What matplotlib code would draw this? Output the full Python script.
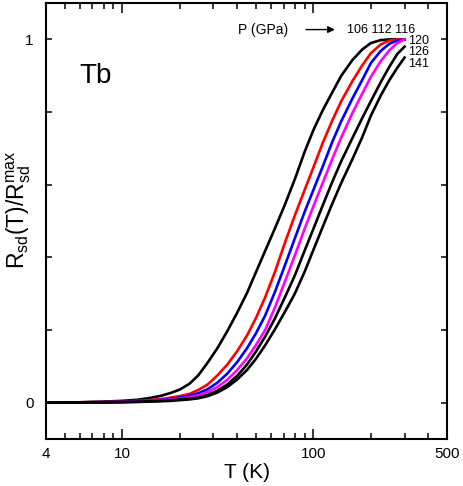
"""Normalized resistance R_sd(T)/R_sd^max of Tb at several pressures"""

import matplotlib
matplotlib.use('Agg')
from matplotlib import pyplot as plt
from matplotlib.ticker import FixedLocator, NullFormatter

plt.rcParams['font.family'] = ['Liberation Sans', 'DejaVu Sans']
plt.rcParams['mathtext.fontset'] = 'custom'
plt.rcParams['mathtext.rm'] = 'Liberation Sans'
plt.rcParams['mathtext.it'] = 'Liberation Sans'

# temperature grid (K) and normalized resistance
T = [4, 6, 8, 10, 12, 14, 16, 18, 20, 22.5, 25, 28, 31.5, 35.5, 40, 45, 50, 56, 63, 71,
     80, 90, 100, 112, 125, 140, 160, 180, 200, 225, 250, 275, 300]

R_106 = [0, 0.001, 0.003, 0.005, 0.008, 0.013, 0.019, 0.027, 0.036, 0.052, 0.075, 0.11,
         0.15, 0.197, 0.248, 0.302, 0.358, 0.418, 0.48, 0.545, 0.615, 0.69, 0.75, 0.805,
         0.852, 0.9, 0.943, 0.972, 0.99, 0.998, 1.0, 1.0, 1.0]
R_112 = [0, 0.001, 0.002, 0.003, 0.005, 0.007, 0.01, 0.014, 0.018, 0.024, 0.035, 0.05,
         0.075, 0.105, 0.142, 0.185, 0.232, 0.29, 0.36, 0.44, 0.515, 0.585, 0.647, 0.715,
         0.774, 0.83, 0.885, 0.928, 0.962, 0.986, 0.997, 1.0, 1.0]
R_116 = [0, 0.001, 0.0015, 0.0025, 0.004, 0.006, 0.008, 0.011, 0.014, 0.019, 0.026, 0.037,
         0.055, 0.08, 0.112, 0.15, 0.19, 0.24, 0.305, 0.378, 0.452, 0.525, 0.585, 0.65,
         0.715, 0.775, 0.837, 0.888, 0.935, 0.968, 0.988, 0.997, 1.0]
R_120 = [0, 0.0005, 0.001, 0.002, 0.003, 0.005, 0.007, 0.009, 0.011, 0.015, 0.02, 0.029,
         0.043, 0.063, 0.09, 0.122, 0.158, 0.2, 0.262, 0.333, 0.405, 0.478, 0.54, 0.605,
         0.668, 0.73, 0.797, 0.85, 0.897, 0.94, 0.97, 0.99, 1.0]
R_126 = [0, 0.0005, 0.001, 0.0015, 0.0025, 0.004, 0.005, 0.007, 0.009, 0.011, 0.014, 0.021,
         0.033, 0.05, 0.074, 0.105, 0.14, 0.182, 0.232, 0.29, 0.35, 0.418, 0.478, 0.543,
         0.605, 0.665, 0.728, 0.783, 0.83, 0.882, 0.925, 0.96, 0.98]
R_141 = [0, 0.0005, 0.001, 0.0015, 0.002, 0.003, 0.004, 0.005, 0.007, 0.009, 0.012, 0.018,
         0.028, 0.043, 0.064, 0.09, 0.12, 0.158, 0.202, 0.25, 0.3, 0.36, 0.42, 0.484,
         0.545, 0.605, 0.67, 0.73, 0.79, 0.845, 0.888, 0.922, 0.95]

curves = [(R_106, 'black'), (R_112, 'red'), (R_116, 'blue'),
          (R_120, 'magenta'), (R_126, 'black'), (R_141, 'black')]

x_ticks = [4, 10, 100, 500]
x_minor = [5, 6, 7, 8, 9, 20, 30, 40, 50, 60, 70, 80, 90, 200, 300, 400]
y_ticks = [0, 0.2, 0.4, 0.6, 0.8, 1.0]
y_tick_labels = ['0', '', '', '', '', '1']

fig = plt.figure(figsize=(4.63, 4.86), dpi=100)
ax = fig.add_axes([0.0994, 0.0967, 0.866, 0.897])

for r, color in curves:
    ax.plot(T, r, color=color, lw=1.9)

ax.set_xscale('log')
ax.set_xlim(4, 500)
ax.set_ylim(-0.1, 1.1)

ax.xaxis.set_major_locator(FixedLocator(x_ticks))
ax.xaxis.set_minor_locator(FixedLocator(x_minor))
ax.xaxis.set_minor_formatter(NullFormatter())
ax.set_xticklabels([str(v) for v in x_ticks])
ax.set_yticks(y_ticks)
ax.set_yticklabels(y_tick_labels)

ax.tick_params(which='both', direction='in', top=True, right=True, width=1.1, labelsize=11)
ax.tick_params(axis='x', which='major', length=7, pad=6)
ax.tick_params(axis='x', which='minor', length=4.5)
ax.tick_params(axis='y', which='major', length=4.5, pad=9)
for spine in ax.spines.values():
    spine.set_linewidth(1.5)

ax.set_xlabel('T (K)', fontsize=15, labelpad=1)
ax.set_ylabel(r'$\mathregular{R_{sd}(T)/R_{sd}^{max}}$', fontsize=16.5)
ax.yaxis.set_label_coords(-0.033, 0.525)

ax.text(6.0, 0.90, 'Tb', fontsize=20, va='center', ha='left')
ax.text(40.5, 1.027, 'P (GPa)', fontsize=10, va='center', ha='left')
ax.annotate('', xy=(134, 1.027), xytext=(88.6, 1.027),
            arrowprops=dict(arrowstyle='-|>', color='black', lw=1.0, mutation_scale=10))
ax.text(150.7, 1.027, '106 112 116', fontsize=9, va='center', ha='left')
ax.text(312, 0.995, '120', fontsize=9, va='center', ha='left')
ax.text(312, 0.964, '126', fontsize=9, va='center', ha='left')
ax.text(312, 0.932, '141', fontsize=9, va='center', ha='left')

fig.savefig('out.png', dpi=100)
